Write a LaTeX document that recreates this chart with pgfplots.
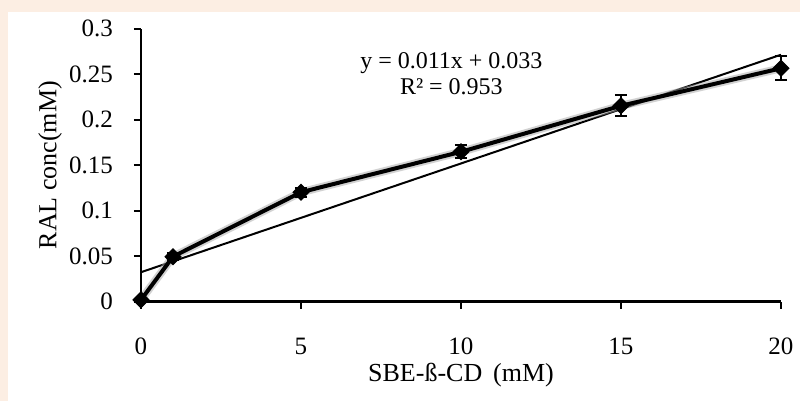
\documentclass[border=0pt]{standalone}
\usepackage{fontspec}
\setmainfont{Liberation Serif}
\usepackage{pgfplots}
\pgfplotsset{compat=1.18}
\definecolor{peach}{RGB}{252,238,227}
\begin{document}
\begin{tikzpicture}
\fill[peach] (0,0) rectangle (400pt,200.5pt);
\fill[white] (4pt,0) rectangle (400pt,194.5pt);
\begin{axis}[
  scale only axis, width=320pt, height=136.5pt,
  at={(70.5pt,49.65pt)}, anchor=south west,
  xmin=0, xmax=20, ymin=0, ymax=0.3,
  axis lines=left, axis line style={line width=1.3pt,-},
  xtick={0,5,10,15,20}, ytick={0,0.05,0.1,0.15,0.2,0.25,0.3},
  tick style={line width=1.1pt,black}, tick align=outside, major tick length=3.5pt,
  /pgf/number format/assume math mode=true,
  yticklabel style={/pgf/number format/fixed, /pgf/number format/precision=2, font=\fontsize{12.5}{14}\selectfont, xshift=-7pt},
  xticklabel style={font=\fontsize{12.5}{14}\selectfont, yshift=-11pt},
  xlabel={SBE-ß-CD\, (mM)}, ylabel={RAL conc(mM)},
  label style={font=\fontsize{13}{15}\selectfont},
  xlabel style={at={(axis description cs:0.5,-0.268)}, anchor=center},
  ylabel style={at={(axis description cs:-0.142,0.5)}, anchor=center},
  clip=false,
]
\addplot[black, line width=1pt] coordinates {(0,0.0324) (20,0.2714)};
\addplot[black!35, line width=4pt, opacity=0.5, forget plot] coordinates {
  (0,0.002) (1,0.0495) (5,0.1203) (10,0.1647) (15,0.2153) (20,0.2565)};
\addplot[black, line width=2pt, mark=square*, mark size=2.8pt,
  mark options={rotate=45, line width=0.5pt},
  error bars/.cd, y dir=both, y explicit,
  error bar style={line width=1pt},
  error mark options={rotate=90, mark size=3pt, line width=1pt}]
  coordinates {
  (0,0.002) +- (0,0.002)
  (1,0.0495) +- (0,0.004)
  (5,0.1203) +- (0,0.005)
  (10,0.1647) +- (0,0.007)
  (15,0.2153) +- (0,0.0115)
  (20,0.2565) +- (0,0.013)
  };
\node[align=center, font=\fontsize{12}{13}\selectfont] at (axis cs:9.7,0.251) {y = 0.011x + 0.033\\R² = 0.953};
\end{axis}
\pgfresetboundingbox
\useasboundingbox (0,0) rectangle (400pt,200.5pt);
\end{tikzpicture}
\end{document}
